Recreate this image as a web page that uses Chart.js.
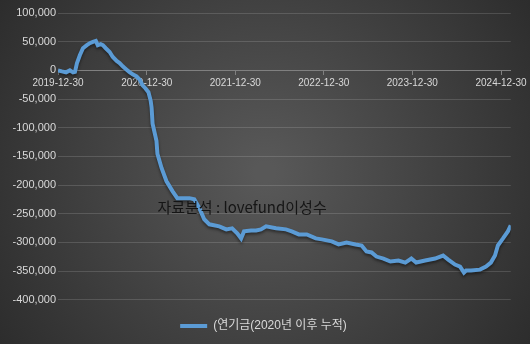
<!DOCTYPE html>
<html lang="ko">
<head>
<meta charset="UTF-8">
<title>연기금 누적</title>
<script src="https://cdn.jsdelivr.net/npm/chart.js@4/dist/chart.umd.min.js"></script>
<style>
  html, body { margin: 0; padding: 0; background: #333; }
</style>
</head>
<body>
<canvas id="myChart" width="530" height="344"></canvas>
<script>
// data
const dates = [
  '2019-12-30','2020-01-15','2020-02-01','2020-02-17','2020-03-01','2020-03-09','2020-03-17','2020-03-29',
  '2020-04-11','2020-04-27','2020-05-09','2020-05-22','2020-06-03','2020-06-11','2020-06-23','2020-07-02',
  '2020-07-14','2020-07-30','2020-08-12','2020-08-28','2020-09-09','2020-09-22','2020-10-08','2020-10-20',
  '2020-11-02','2020-11-18','2020-12-01','2020-12-13','2020-12-25','2021-01-06','2021-01-15','2021-01-19',
  '2021-01-23','2021-02-08','2021-02-12','2021-03-01','2021-03-21','2021-04-15','2021-05-05','2021-05-26',
  '2021-06-24','2021-07-14','2021-08-04','2021-08-24','2021-09-14','2021-10-25','2021-11-23','2021-12-17',
  '2022-01-07','2022-01-23','2022-02-04','2022-03-05','2022-03-26','2022-04-15','2022-05-06','2022-06-16',
  '2022-07-27','2022-08-20','2022-09-18','2022-10-21','2022-11-27','2022-12-22','2023-02-01','2023-03-01',
  '2023-04-03','2023-05-10','2023-06-04','2023-06-24','2023-07-15','2023-08-04','2023-09-02','2023-10-01',
  '2023-11-03','2023-12-01','2023-12-26','2024-01-15','2024-02-21','2024-04-02','2024-05-05','2024-05-26',
  '2024-06-23','2024-07-14','2024-07-30','2024-08-08','2024-08-28','2024-10-04','2024-10-29','2024-11-18',
  '2024-12-05','2024-12-17','2025-01-07','2025-01-27','2025-02-08'
];
const values = [
  0, -1800, -3500, 0, -3500, -2600, 12300, 26300,
  38600, 43900, 47400, 49600, 51400, 43900, 45600, 43900,
  38600, 32100, 23300, 16300, 12800, 7000, 1200, -3000,
  -7000, -10500, -16300, -26300, -31600, -38100, -52600, -64900,
  -93000, -122800, -145600, -170200, -193000, -210500, -222800, -222800,
  -222800, -224600, -240400, -259600, -268400, -271900, -277200, -275400,
  -284200, -293000, -280700, -279000, -279000, -277200, -271900, -275400,
  -277200, -280700, -286000, -286000, -293000, -294700, -298200, -303500,
  -300000, -303500, -305300, -315800, -317500, -324600, -328100, -333300,
  -331600, -335100, -328100, -335100, -331600, -328100, -322800, -329900,
  -338600, -342100, -352600, -349100, -349100, -347400, -342100, -335100,
  -322800, -305300, -293000, -280700, -270200
];
const tickDates = ['2019-12-30', '2020-12-30', '2021-12-30', '2022-12-30', '2023-12-30', '2024-12-30'];
const yMin = -400000, yMax = 100000, yStep = 50000;
const seriesLabel = '(연기금(2020년 이후 누적)';
const noteText = '자료분석 : lovefund이성수';
const noteDate = '2021-02-12', noteValue = -238000;

const toMs = d => Date.parse(d);
const lineColor = '#5b9bd5';
const textColor = '#d9d9d9';

Chart.defaults.font.family = "'Liberation Sans', 'Noto Sans CJK KR', sans-serif";

// dark radial background like the spreadsheet theme
const bgPlugin = {
  id: 'bg',
  beforeDraw(chart) {
    const ctx = chart.ctx, w = chart.width, h = chart.height;
    const g = ctx.createRadialGradient(w / 2, h / 2, 10, w / 2, h / 2, w * 0.62);
    g.addColorStop(0, '#585858');
    g.addColorStop(1, '#2b2b2b');
    ctx.save();
    ctx.fillStyle = g;
    ctx.fillRect(0, 0, w, h);
    ctx.restore();
  }
};

const shadowPlugin = {
  id: 'lineShadow',
  beforeDatasetDraw(chart) {
    const ctx = chart.ctx;
    ctx.save();
    ctx.shadowColor = 'rgba(0,0,0,0.45)';
    ctx.shadowBlur = 3;
    ctx.shadowOffsetY = 2;
  },
  afterDatasetDraw(chart) {
    chart.ctx.restore();
  }
};

const notePlugin = {
  id: 'note',
  afterDatasetsDraw(chart) {
    const ctx = chart.ctx;
    const x = chart.scales.x.getPixelForValue(toMs(noteDate));
    const y = chart.scales.y.getPixelForValue(noteValue);
    ctx.save();
    ctx.font = "15px 'Noto Sans CJK KR', sans-serif";
    ctx.fillStyle = '#151515';
    ctx.textBaseline = 'middle';
    ctx.fillText(noteText, x, y);
    ctx.restore();
  }
};

const ctx = document.getElementById('myChart').getContext('2d');
new Chart(ctx, {
  type: 'line',
  data: {
    datasets: [{
      label: seriesLabel,
      data: dates.map((d, i) => ({ x: toMs(d), y: values[i] })),
      borderColor: lineColor,
      backgroundColor: lineColor,
      borderWidth: 4,
      pointRadius: 0,
      tension: 0
    }]
  },
  options: {
    responsive: false,
    animation: false,
    layout: { padding: { top: 13, right: 12, bottom: 2, left: 9 } },
    plugins: {
      tooltip: { enabled: false },
      legend: {
        position: 'bottom',
        title: { display: true, text: '', font: { size: 1 }, padding: { top: 9, bottom: 0 } },
        labels: {
          color: textColor,
          font: { size: 12 },
          boxWidth: 27,
          boxHeight: 4,
          generateLabels(chart) {
            return Chart.defaults.plugins.legend.labels.generateLabels(chart)
              .map(item => Object.assign(item, { lineWidth: 0 }));
          }
        }
      }
    },
    scales: {
      x: {
        type: 'linear',
        position: { y: 0 },
        min: toMs(dates[0]),
        max: toMs(dates[dates.length - 1]),
        afterBuildTicks(scale) {
          scale.ticks = tickDates.map(d => ({ value: toMs(d) }));
        },
        ticks: {
          color: textColor,
          font: { size: 10 },
          maxRotation: 0,
          autoSkip: false,
          padding: 3,
          callback: v => new Date(v).toISOString().slice(0, 10)
        },
        grid: { drawOnChartArea: false, drawTicks: true, tickLength: 4, color: '#808080' },
        border: { color: '#808080', width: 1 }
      },
      y: {
        min: yMin,
        max: yMax,
        afterFit(scale) { scale.width = 49; },
        ticks: {
          stepSize: yStep,
          color: textColor,
          font: { size: 11 },
          padding: 2,
          callback: v => v.toLocaleString('en-US')
        },
        grid: { color: 'rgba(255,255,255,0.14)', drawTicks: false },
        border: { display: false }
      },
      // empty right-hand margin so the plot ends where the original does
      yRight: {
        position: 'right',
        afterFit(scale) { scale.width = 5; },
        ticks: { display: false },
        grid: { display: false },
        border: { display: false }
      }
    }
  },
  plugins: [bgPlugin, shadowPlugin, notePlugin]
});
</script>
</body>
</html>
